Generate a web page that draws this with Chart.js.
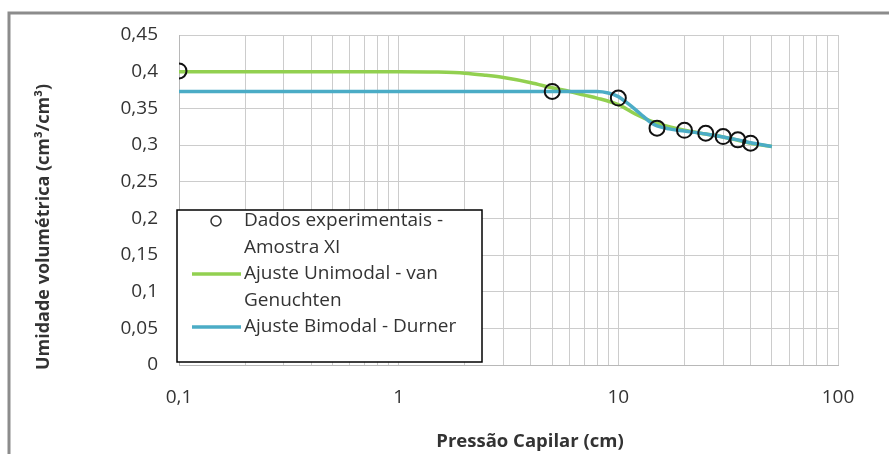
<!DOCTYPE html>
<html>
<head>
<meta charset="utf-8">
<script src="https://cdn.jsdelivr.net/npm/chart.js@4/dist/chart.umd.min.js"></script>
<style>
  html, body { margin: 0; padding: 0; background: #fff; overflow: hidden; }
  #grafico { display: block; }
</style>
</head>
<body>
<canvas id="grafico" width="889" height="454"></canvas>
<script>
// pontos experimentais - Amostra XI
var pressaoExp = [0.1, 5, 10, 15, 20, 25, 30, 35, 40];
var umidadeExp = [0.401, 0.373, 0.364, 0.323, 0.320, 0.316, 0.3115, 0.307, 0.3025];

// ajuste unimodal (van Genuchten)
var pressaoVG = [0.1, 0.5, 1, 1.5, 2, 2.5, 3, 4, 5, 6, 7, 8, 10, 12, 14, 17, 20, 25, 30, 35, 40, 50];
var umidadeVG = [0.400, 0.400, 0.400, 0.3995, 0.398, 0.395, 0.392, 0.385, 0.378, 0.373, 0.368, 0.364, 0.355, 0.342, 0.333, 0.325, 0.320, 0.315, 0.311, 0.3065, 0.3025, 0.298];

// ajuste bimodal (Durner)
var pressaoDurner = [0.1, 1, 5, 8, 9, 10, 11, 12, 13, 14, 15, 17, 20, 25, 30, 35, 40, 50];
var umidadeDurner = [0.373, 0.373, 0.373, 0.373, 0.371, 0.366, 0.357, 0.348, 0.339, 0.331, 0.326, 0.322, 0.319, 0.315, 0.311, 0.307, 0.303, 0.298];

var ticksX = [0.1, 0.2, 0.3, 0.4, 0.5, 0.6, 0.7, 0.8, 0.9, 1, 2, 3, 4, 5, 6, 7, 8, 9, 10, 20, 30, 40, 50, 60, 70, 80, 90, 100];
var rotulosX = [0.1, 1, 10, 100];

var legendas = [
    ['Dados experimentais -', 'Amostra XI'],
    ['Ajuste Unimodal - van', 'Genuchten'],
    ['Ajuste Bimodal - Durner']
];
var tituloX = 'Pressão Capilar (cm)';
var tituloY = 'Umidade volumétrica (cm³/cm³)';

const corVerde = '#92d050';
const corAzul = '#4bacc6';
const fonte = '"Open Sans", sans-serif';

const juntar = (xs, ys) => xs.map((x, i) => ({ x: x, y: ys[i] }));
const virgula = v => String(Math.round(v * 100) / 100).replace('.', ',');

// moldura, títulos dos eixos e legenda dentro do gráfico
const extras = {
    id: 'extras',
    beforeDraw(chart) {
        const ctx = chart.ctx;
        ctx.save();
        ctx.fillStyle = '#fff';
        ctx.fillRect(0, 0, chart.width, chart.height);
        ctx.strokeStyle = '#8c8c8c';
        ctx.lineWidth = 3;
        ctx.beginPath();
        ctx.moveTo(9, chart.height);
        ctx.lineTo(9, 13);
        ctx.lineTo(chart.width, 13);
        ctx.stroke();
        ctx.restore();
    },
    afterDraw(chart) {
        const ctx = chart.ctx;
        const area = chart.chartArea;
        ctx.save();
        ctx.fillStyle = '#333';
        ctx.font = 'bold 18.5px ' + fonte;
        ctx.textAlign = 'center';
        ctx.textBaseline = 'middle';
        ctx.fillText(tituloX, 530, 442);
        ctx.font = 'bold 18px ' + fonte;
        ctx.translate(44, 227);
        ctx.rotate(-Math.PI / 2);
        ctx.fillText(tituloY, 0, 0);
        ctx.restore();

        // legenda
        const bx = area.left - 2, by = 210, bw = 305, bh = 152;
        ctx.save();
        ctx.fillStyle = '#fff';
        ctx.fillRect(bx, by, bw, bh);
        ctx.strokeStyle = '#000';
        ctx.lineWidth = 1.5;
        ctx.strokeRect(bx, by, bw, bh);
        ctx.font = '19px ' + fonte;
        ctx.textBaseline = 'middle';
        ctx.textAlign = 'left';
        let y = by + 11;
        const lh = 26.5;
        legendas.forEach((linhas, i) => {
            const ds = chart.data.datasets[i];
            if (i === 0) {
                ctx.strokeStyle = '#333';
                ctx.lineWidth = 1.5;
                ctx.beginPath();
                ctx.arc(bx + 39, y, 5, 0, Math.PI * 2);
                ctx.stroke();
            } else {
                ctx.strokeStyle = ds.borderColor;
                ctx.lineWidth = 3.5;
                ctx.beginPath();
                ctx.moveTo(bx + 15, y);
                ctx.lineTo(bx + 64, y);
                ctx.stroke();
            }
            ctx.fillStyle = '#333';
            linhas.forEach(l => {
                ctx.fillText(l, bx + 67, y);
                y += lh;
            });
        });
        ctx.restore();
    }
};

var ctx = document.getElementById('grafico').getContext('2d');
var chart = new Chart(ctx, {
    type: 'scatter',
    data: {
        datasets: [{
            label: 'Dados experimentais - Amostra XI',
            data: juntar(pressaoExp, umidadeExp),
            borderColor: '#111',
            backgroundColor: 'rgba(0,0,0,0)',
            borderWidth: 2,
            pointRadius: 7.5,
            showLine: false,
            order: 0
        }, {
            label: 'Ajuste Unimodal - van Genuchten',
            data: juntar(pressaoVG, umidadeVG),
            borderColor: corVerde,
            borderWidth: 3.5,
            pointRadius: 0,
            showLine: true,
            cubicInterpolationMode: 'monotone',
            order: 2
        }, {
            label: 'Ajuste Bimodal - Durner',
            data: juntar(pressaoDurner, umidadeDurner),
            borderColor: corAzul,
            borderWidth: 3.5,
            pointRadius: 0,
            showLine: true,
            cubicInterpolationMode: 'monotone',
            order: 1
        }]
    },
    options: {
        responsive: false,
        animation: false,
        layout: { padding: { top: 35, right: 51, left: 0, bottom: 0 } },
        plugins: {
            legend: { display: false },
            tooltip: { enabled: false }
        },
        scales: {
            x: {
                type: 'logarithmic',
                min: 0.1,
                max: 100,
                afterBuildTicks: s => { s.ticks = ticksX.map(v => ({ value: v })); },
                afterFit: s => { s.height = 89; },
                grid: { color: '#cccccc', drawTicks: false },
                border: { color: '#b8b8b8' },
                ticks: {
                    autoSkip: false,
                    maxRotation: 0,
                    padding: 21,
                    color: '#333',
                    font: { family: fonte, size: 19 },
                    callback: v => rotulosX.includes(v) ? virgula(v) : ''
                }
            },
            y: {
                min: 0,
                max: 0.45,
                afterFit: s => { s.width = 179; },
                grid: { color: '#cccccc', drawTicks: false },
                border: { color: '#b8b8b8' },
                ticks: {
                    stepSize: 0.05,
                    padding: 21,
                    color: '#333',
                    font: { family: fonte, size: 19 },
                    callback: v => virgula(v)
                }
            }
        }
    },
    plugins: [extras]
});
</script>
</body>
</html>
